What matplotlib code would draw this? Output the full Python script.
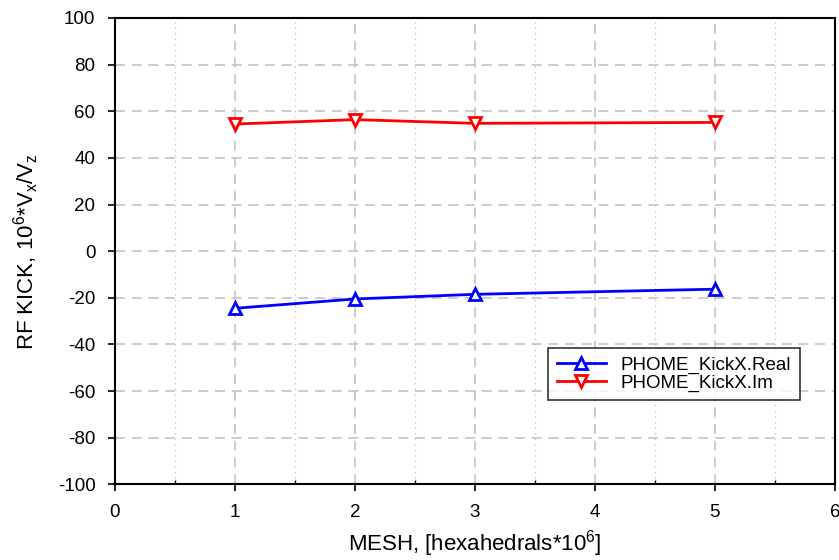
import matplotlib
matplotlib.use("Agg")
import matplotlib.pyplot as plt
from matplotlib.ticker import MultipleLocator

plt.rcParams['font.family'] = ['Liberation Sans', 'DejaVu Sans']
plt.rcParams['axes.unicode_minus'] = False
plt.rcParams['mathtext.fontset'] = 'custom'
plt.rcParams['mathtext.rm'] = 'Liberation Sans'
plt.rcParams['mathtext.it'] = 'Liberation Sans'

mesh = [1, 2, 3, 5]
kick_real = [-24.5, -20.5, -18.5, -16.3]
kick_im = [54.5, 56.4, 54.8, 55.2]
label_real = "PHOME_KickX.Real"
label_im = "PHOME_KickX.Im"

fig = plt.figure(figsize=(8.39, 5.6), dpi=100)
ax = fig.add_axes([0.137, 0.135, 0.858, 0.833])

ax.plot(mesh, kick_real, color='#0000ff', lw=2, marker='^', ms=9,
        mfc='white', mec='#0000ff', mew=2, label=label_real, zorder=5)
ax.plot(mesh, kick_im, color='#ff0000', lw=2, marker='v', ms=9,
        mfc='white', mec='#ff0000', mew=2, label=label_im, zorder=5)

ax.set_xlim(0, 6)
ax.set_ylim(-100, 100)
ax.xaxis.set_major_locator(MultipleLocator(1))
ax.xaxis.set_minor_locator(MultipleLocator(0.5))
ax.yaxis.set_major_locator(MultipleLocator(20))

ax.grid(which='major', color='#c4c4c4', linestyle=(0, (6, 4)), lw=1.2)
ax.grid(which='minor', axis='x', color='#c4c4c4', linestyle=(0, (1, 3)), lw=1.0)
ax.set_axisbelow(True)

for s in ax.spines.values():
    s.set_linewidth(1.5)
ax.tick_params(which='major', direction='out', length=5, width=1.2, labelsize=13.5, pad=9)
ax.tick_params(which='minor', direction='in', length=3, width=1)

ax.set_xlabel(r"MESH, [hexahedrals*10$^{\mathregular{6}}$]", fontsize=16, labelpad=5)
ax.set_ylabel(r"RF KICK, 10$^{\mathregular{6}}$*V$_{\mathregular{x}}$/V$_{\mathregular{z}}$",
              fontsize=16, labelpad=12)

leg = ax.legend(loc='lower right', bbox_to_anchor=(0.951, 0.18), fontsize=13.5,
                frameon=True, fancybox=False, edgecolor='black',
                handlelength=2.6, borderpad=0.45, labelspacing=0.05, borderaxespad=0)
leg.get_frame().set_linewidth(1.2)

fig.savefig("out.png", dpi=100)
